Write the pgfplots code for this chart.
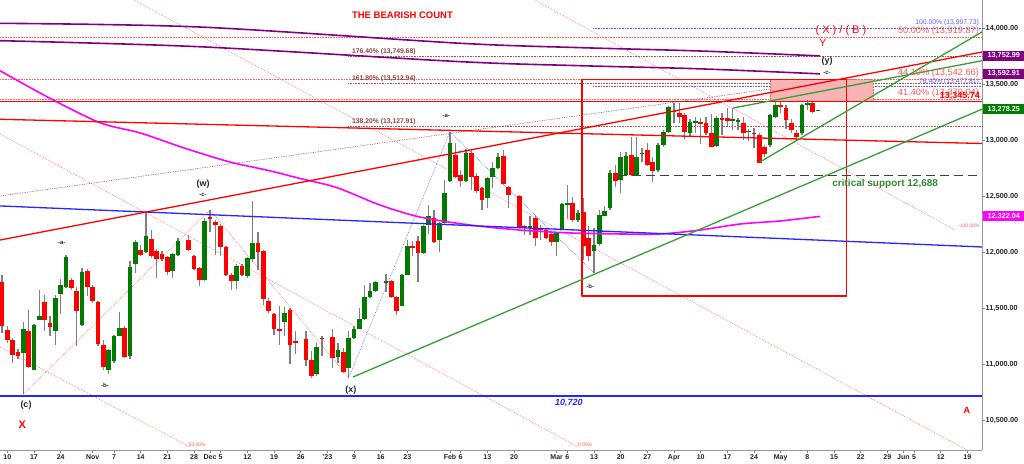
\documentclass[border=0pt]{standalone}
\usepackage{fontspec}
\setmainfont{Liberation Sans}
\usepackage{pgfplots}
\pgfplotsset{compat=1.18}
\usepackage{pgfplotstable}

\definecolor{cgreen}{HTML}{007A00}
\definecolor{cred}{HTML}{FF0000}
\definecolor{wick}{HTML}{808080}
\definecolor{cpurple}{HTML}{800080}
\definecolor{cmag}{HTML}{FF00FF}
\definecolor{cblue}{HTML}{2626FF}
\definecolor{tgreen}{HTML}{34A034}
\definecolor{dred}{HTML}{FF7A7A}
\definecolor{pinkbox}{HTML}{F8B4B4}
\definecolor{fibred}{HTML}{FF5A5A}
\definecolor{fibblue}{HTML}{5A5AFF}
\definecolor{lbl}{HTML}{8E4444}
\definecolor{brownd}{HTML}{A05858}
\definecolor{lblgreen}{HTML}{2E8B2E}

\newcommand\fs[1]{\fontsize{#1}{#1}\selectfont}

\pgfplotstableread{
i O H L C
-1 11733 11802 11283 11342
0 11306 11342 11194 11217
1 11223 11238 11010 11084
2 11111 11135 11046 11081
3 11099 11378 10734 11318
4 11301 11490 10971 10980
5 10956 11366 10951 11351
6 11401 11668 11401 11437
7 11556 11624 11298 11395
8 11372 11431 11253 11333
9 11298 11624 11179 11597
10 11630 11763 11455 11713
11 11689 11980 11683 11956
12 11751 11772 11668 11683
13 11653 11692 11164 11476
14 11357 11861 11348 11823
15 11831 11852 11609 11689
16 11692 11713 11550 11564
17 11558 11564 11164 11185
18 11179 11223 10956 10980
19 10956 11140 10912 11128
20 11031 11268 11016 11253
21 11253 11467 11253 11327
22 11330 11342 11060 11069
23 11075 11920 11051 11870
24 11900 12107 11817 12089
25 12024 12069 11965 11980
26 12003 12357 11994 12143
27 12119 12196 11950 11971
28 12009 12030 11772 11941
29 11989 12009 11920 11941
30 11959 11971 11802 11825
31 11831 11994 11772 11989
32 11980 12128 11971 12098
34 12113 12158 12009 12018
35 11971 11980 11846 11852
36 11861 11870 11704 11757
37 11757 12306 11748 12285
38 12312 12380 12187 12297
39 12276 12291 11980 12247
40 12232 12256 11971 12048
41 12048 12060 11787 11802
42 11802 11817 11662 11742
43 11742 11900 11674 11882
44 11876 11900 11793 11802
45 11793 11959 11772 11950
46 11941 12463 11911 12084
47 12084 12187 11846 12000
48 12015 12024 11535 11585
49 11570 11594 11461 11476
50 11455 11461 11268 11318
51 11319 11520 11179 11305
52 11384 11514 11253 11461
53 11490 11505 11001 11179
54 11205 11298 11090 11195
56 11230 11298 10986 11040
57 11040 11120 10882 10897
58 10912 11194 10897 11158
59 11239 11253 11075 11230
61 11245 11313 10972 11060
62 11069 11194 11016 11129
63 11111 11150 10927 10933
64 10972 11298 10882 11239
65 11239 11343 11224 11319
66 11319 11505 11313 11407
67 11407 11713 11401 11603
68 11603 11728 11594 11660
69 11654 11743 11645 11737
71 11737 11811 11645 11743
72 11743 11757 11594 11600
73 11600 11609 11446 11482
74 11526 11811 11520 11802
75 11802 12113 11796 12060
76 12060 12098 11965 12039
77 12098 12143 11734 11995
78 11995 12247 11989 12232
79 12247 12425 12167 12321
80 12306 12380 12084 12090
81 12113 12276 12001 12262
82 12262 12647 12247 12534
83 12641 13077 12632 12974
84 12870 12974 12662 12677
85 12692 12736 12582 12638
86 12638 12920 12632 12891
87 12891 12920 12558 12677
88 12683 12712 12534 12552
89 12573 12588 12380 12469
90 12484 12677 12395 12662
91 12677 12811 12573 12751
92 12751 12885 12742 12855
93 12861 12914 12603 12612
94 12582 12594 12395 12514
96 12505 12514 12217 12226
97 12232 12247 12158 12217
98 12217 12321 12158 12232
99 12306 12321 12060 12128
100 12217 12247 12113 12202
101 12202 12217 12119 12128
102 12167 12178 12054 12090
103 12090 12187 11965 12178
104 12202 12440 12196 12434
105 12423 12603 12300 12440
106 12440 12499 12270 12291
107 12291 12380 12270 12351
108 12357 12484 11935 12054
109 12128 12232 11921 11965
110 12010 12217 11817 12069
111 12078 12380 12060 12336
112 12327 12410 12321 12374
113 12395 12736 12380 12712
114 12707 12781 12588 12641
115 12647 12899 12529 12855
116 12692 12899 12683 12864
117 12870 13033 12683 12692
118 12683 13033 12680 12855
119 12879 12929 12810 12890
120 12914 12979 12772 12781
121 12810 12855 12632 12730
122 12736 12979 12721 12959
123 12959 13092 12944 13077
124 13077 13306 13062 13300
125 13255 13329 13151 13260
126 13246 13335 13157 13211
127 13226 13240 13009 13077
128 13068 13187 13033 13166
129 13157 13211 13068 13166
130 13166 13196 12965 13151
131 13157 13211 13048 13068
132 13068 13234 12938 12944
133 12950 13217 12938 13196
134 13198 13246 13048 13190
135 13196 13285 13130 13175
136 13181 13285 13092 13187
137 13166 13196 13092 13175
138 13157 13211 13003 13062
139 13077 13100 12990 13085
140 13068 13107 12929 13056
141 13048 13062 12795 12801
142 12938 12959 12855 12879
143 12959 13234 12944 13226
144 13211 13344 13196 13315
145 13315 13344 13240 13300
146 13285 13315 13098 13181
147 13157 13187 13068 13092
148 13062 13092 13003 13033
149 13062 13323 13048 13315
150 13315 13359 13270 13335
151 13335 13344 13246 13255
152 13264 13275 13258 13270
}\candles

\begin{document}
\begin{tikzpicture}
\begin{axis}[at={(0,0)}, anchor=south west, scale only axis,
  width=982pt, height=450pt,
  xmin=-1.375, xmax=182.75, ymin=10238, ymax=14252,
  axis x line*=bottom, axis y line*=right,
  axis line style={draw=black!40, line width=0.9pt},
  tick style={draw=black!50, line width=0.6pt}, tick align=outside, major tick length=3pt,
  xtick={0,5,10,16,20,25,30,35,38,40,45,50,55,60,65,70,75,83,85,90,95,103,105,110,115,120,125,130,135,140,145,150,155,160,165,168,170,175,180},
  xticklabels={10,17,24,Nov,7,14,21,28,Dec,5,12,19,26,'23,9,16,23,Feb,6,13,20,Mar,6,13,20,27,Apr,10,17,24,May,8,15,22,29,Jun,5,12,19},
  ytick={10500,11000,11500,12000,12500,13000,13500,14000},
  yticklabels={{10,500.00},{11,000.00},{11,500.00},{12,000.00},{12,500.00},{13,000.00},{13,500.00},{14,000.00}},
  xticklabel style={font=\fs{7}\bfseries, text=black!85, anchor=north, inner sep=0pt, yshift=-1.5pt},
  yticklabel style={font=\fs{7.3}\bfseries, text=black!85, anchor=west, inner sep=0pt, xshift=0.5pt},
  clip=false,
  every axis plot/.append style={line join=round},
]
% ---- dotted fib horizontals
\addplot[fibblue, densely dotted, line width=0.6pt] coordinates {(109.8,13997.73) (182.75,13997.73)};
\addplot[fibred, densely dotted, line width=0.6pt] coordinates {(-1.375,13919.87) (182.75,13919.87)};
\addplot[brownd, densely dotted, line width=0.6pt] coordinates {(63.9,13749.68) (182.75,13749.68)};
\addplot[fibred, densely dotted, line width=0.6pt] coordinates {(-1.375,13542.66) (182.75,13542.66)};
\addplot[brownd, densely dotted, line width=0.6pt] coordinates {(63.9,13512.94) (182.75,13512.94)};
\addplot[fibblue, densely dotted, line width=0.6pt] coordinates {(109.8,13477.81) (182.75,13477.81)};
\addplot[fibred, densely dotted, line width=0.6pt] coordinates {(-1.375,13370.04) (182.75,13370.04)};
\addplot[brownd, densely dotted, line width=0.6pt] coordinates {(63.9,13127.91) (182.75,13127.91)};
% ---- pink zone
\addplot[fill=pinkbox, draw=fibred, densely dotted, line width=0.5pt] coordinates {(143.0,13345.74) (162.3,13345.74) (162.3,13542.66) (143.0,13542.66) (143.0,13345.74)};
% ---- diagonal dotted lines
\addplot[dred, densely dotted, line width=0.7pt] coordinates {(-1.375,13057) (107.0,10265)};
\addplot[dred, densely dotted, line width=0.7pt] coordinates {(-1.375,11157) (34.25,10265)};
\addplot[dred, densely dotted, line width=0.7pt] coordinates {(23.75,14252) (179.9,10238)};
\addplot[dred, densely dotted, line width=0.7pt] coordinates {(98.9,14252) (177.7,12200)};
\addplot[brownd, densely dotted, line width=0.7pt] coordinates {(-1.375,12504) (143.0,13458)};
\addplot[dred, densely dotted, line width=0.7pt] coordinates {(3,10734) (38,12380) (64,10882)};
\addplot[fibblue, densely dotted, line width=0.6pt] coordinates {(64,10882) (83,13077) (110,11817)};
% ---- candles: wicks
\addplot[draw=none, mark=none, error bars/.cd, y dir=plus, y explicit, error mark=none,
  error bar style={line width=1.1pt, draw=wick, solid}]
  table[x=i, y=L, y error expr={\thisrow{H}-\thisrow{L}}] {\candles};
% ---- candles: up bodies
\addplot[x filter/.expression={\thisrow{C}<\thisrow{O} ? nan : x},
  draw=none, mark=none, error bars/.cd, y dir=both, y explicit, error mark=none,
  error bar style={line width=4.4pt, draw=cgreen, solid}]
  table[x=i, y expr={(\thisrow{O}+\thisrow{C})/2}, y error expr={max(abs(\thisrow{C}-\thisrow{O})/2,7)}] {\candles};
% ---- candles: down bodies
\addplot[x filter/.expression={\thisrow{C}<\thisrow{O} ? x : nan},
  draw=none, mark=none, error bars/.cd, y dir=both, y explicit, error mark=none,
  error bar style={line width=4.4pt, draw=cred, solid}]
  table[x=i, y expr={(\thisrow{O}+\thisrow{C})/2}, y error expr={max(abs(\thisrow{C}-\thisrow{O})/2,7)}] {\candles};
% ---- moving averages
\addplot[cpurple, line width=1.6pt, smooth] coordinates {(-1.375,14044) (36.1,14011) (84.9,13866) (107.4,13827) (129.9,13797) (152.4,13753)};
\addplot[cpurple, line width=1.6pt, smooth] coordinates {(-1.375,13889) (36.1,13835) (84.9,13702) (107.4,13666) (129.9,13638) (152.4,13593)};
\addplot[cmag, line width=1.6pt, smooth] coordinates {(-1.375,13621) (8.0,13375) (17.4,13157) (24.9,13066) (33.7,12923) (41.75,12807) (49.25,12728) (54.88,12660) (61.81,12578) (69.88,12423) (77.38,12316) (86.75,12245) (96.13,12200) (105.5,12174) (114.9,12165) (122.4,12165) (129.9,12200) (137.4,12254) (144.9,12281) (152.4,12322)};
% ---- solid trend lines
\addplot[cblue, line width=1.3pt] coordinates {(-1.375,12415) (182.75,12049)};
\addplot[cblue, line width=1.3pt] coordinates {(-1.375,10720) (182.75,10720)};
\addplot[cred, line width=1.3pt] coordinates {(-1.375,12111) (182.75,13788)};
\addplot[cred, line width=1.3pt] coordinates {(-1.375,13188) (182.75,12972)};
\addplot[cred, line width=1.6pt] coordinates {(-1.375,13345.74) (182.75,13345.74)};
\addplot[cred, line width=1.3pt] coordinates {(107.76,13545) (157.3,13545) (157.3,11612) (107.76,11612) (107.76,13545)};
\addplot[tgreen, line width=1.3pt] coordinates {(64.8,10889) (182.75,13278)};
\addplot[tgreen, line width=1.3pt] coordinates {(141.1,12807) (182.75,13967)};
\addplot[tgreen, line width=1.3pt] coordinates {(136.1,13289) (182.75,13710)};
\addplot[black!75, line width=1.3pt, dash pattern=on 9pt off 5pt] coordinates {(114.5,12688) (182.75,12688)};
% ---- right-axis value boxes
\node[fill=cpurple, text=white, font=\fs{7.3}\bfseries, anchor=west, inner sep=0pt, minimum width=41pt, minimum height=10pt] at (axis cs:182.95,13752.99) {13,752.99};
\node[fill=cpurple, text=white, font=\fs{7.3}\bfseries, anchor=west, inner sep=0pt, minimum width=41pt, minimum height=10pt] at (axis cs:182.95,13592.91) {13,592.91};
\node[fill=cgreen, text=white, font=\fs{7.3}\bfseries, anchor=west, inner sep=0pt, minimum width=41pt, minimum height=10pt] at (axis cs:182.95,13278.25) {13,278.25};
\node[fill=cmag, text=white, font=\fs{7.3}\bfseries, anchor=west, inner sep=0pt, minimum width=41pt, minimum height=10pt] at (axis cs:182.95,12322.04) {12,322.04};
% ---- fib labels
\node[text=fibblue, font=\fs{6.8}, anchor=east, inner sep=0pt] at (axis cs:182.2,14052) {100.00\% (13,997.73)};
\node[text=fibred, font=\fs{9.2}, anchor=east, inner sep=0pt] at (axis cs:182.2,13972) {50.00\% (13,919.87)};
\node[text=fibred, font=\fs{9.2}, anchor=east, inner sep=0pt] at (axis cs:182.2,13604) {44.10\% (13,542.66)};
\node[text=fibblue, font=\fs{6.8}, anchor=east, inner sep=0pt] at (axis cs:182.2,13521) {76.40\% (13,477.81)};
\node[text=fibred, font=\fs{9.2}, anchor=east, inner sep=0pt] at (axis cs:182.2,13425) {41.40\% (13,370.04)};
\node[text=cred, font=\fs{9}\bfseries, anchor=east, inner sep=0pt] at (axis cs:182.4,13398) {13,345.74};
\node[text=lbl, font=\fs{6.8}\bfseries, anchor=west, inner sep=0pt] at (axis cs:64.6,13788) {176.40\% (13,749.68)};
\node[text=lbl, font=\fs{6.8}\bfseries, anchor=west, inner sep=0pt] at (axis cs:64.6,13548) {161.80\% (13,512.94)};
\node[text=lbl, font=\fs{6.8}\bfseries, anchor=west, inner sep=0pt] at (axis cs:64.6,13164) {138.20\% (13,127.91)};
\node[text=fibred, font=\fs{5}, inner sep=0pt] at (axis cs:180.3,12236) {-100.00\%};
\node[text=fibred, font=\fs{5}, inner sep=0pt] at (axis cs:35.6,10283) {50.00\%};
\node[text=fibred, font=\fs{5}, inner sep=0pt] at (axis cs:108.3,10283) {0.00\%};
% ---- titles and wave labels
\node[text=cred, font=\fs{9.5}\bfseries, anchor=west, inner sep=0pt] at (axis cs:64.6,14112) {THE BEARISH COUNT};
\node[text=cred, font=\fs{11}, inner sep=0pt] at (axis cs:156.3,13975) {( X ) / ( B )};
\node[text=cred, font=\fs{10.5}, inner sep=0pt] at (axis cs:152.9,13866) {Y};
\node[font=\fs{9}\bfseries, text=black!85, inner sep=0pt] at (axis cs:153.7,13708) {(y)};
\node[font=\fs{6}\bfseries, text=black!85, inner sep=0pt] at (axis cs:153.7,13601) {-c-};
\node[font=\fs{6}\bfseries, text=black!85, inner sep=0pt] at (axis cs:82.3,13217) {-a-};
\node[font=\fs{9}\bfseries, text=black!85, inner sep=0pt] at (axis cs:36.7,12612) {(w)};
\node[font=\fs{6}\bfseries, text=black!85, inner sep=0pt] at (axis cs:36.7,12510) {-c-};
\node[font=\fs{6}\bfseries, text=black!85, inner sep=0pt] at (axis cs:10.2,12088) {-a-};
\node[font=\fs{6}\bfseries, text=black!85, inner sep=0pt] at (axis cs:18.3,10818) {-b-};
\node[font=\fs{9}\bfseries, text=black!85, inner sep=0pt] at (axis cs:3.5,10640) {(c)};
\node[font=\fs{9}\bfseries, text=black!85, inner sep=0pt] at (axis cs:64.4,10773) {(x)};
\node[font=\fs{6}\bfseries, text=black!85, inner sep=0pt] at (axis cs:109.3,11701) {-b-};
\node[text=cred, font=\fs{11}\bfseries, inner sep=0pt] at (axis cs:2.8,10461) {X};
\node[text=cred, font=\fs{9}\bfseries, inner sep=0pt] at (axis cs:179.9,10595) {A};
\node[text=cblue, font=\fs{9}\bfseries\itshape, inner sep=0pt] at (axis cs:105.3,10657) {10,720};
\node[text=lblgreen, font=\fs{10}\bfseries, inner sep=0pt] at (axis cs:164.6,12608) {critical support 12,688};
\end{axis}
\pgfresetboundingbox
\path[use as bounding box] (0,-13pt) rectangle (1024pt,450pt);
\end{tikzpicture}
\end{document}
